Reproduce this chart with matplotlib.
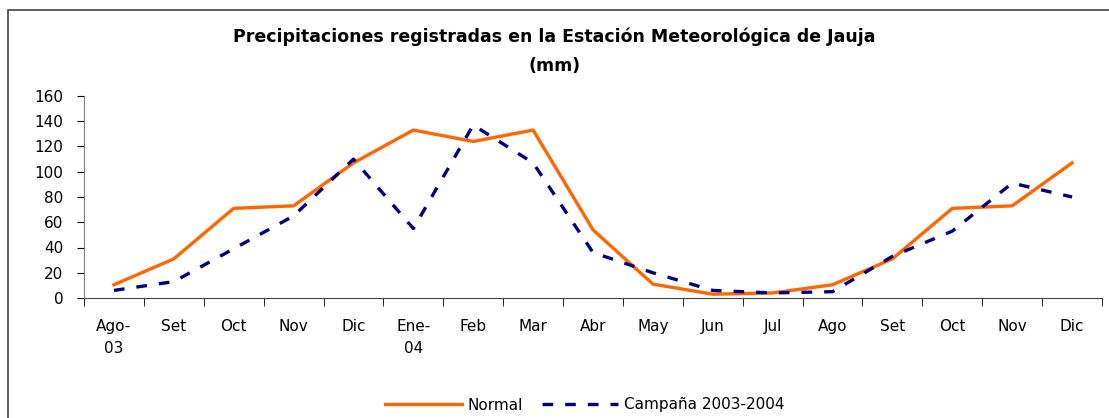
import matplotlib.pyplot as plt
from matplotlib.patches import Rectangle
import numpy as np

# datos (mm)
meses = ['Ago-\n03', 'Set', 'Oct', 'Nov', 'Dic', 'Ene-\n04', 'Feb', 'Mar', 'Abr',
         'May', 'Jun', 'Jul', 'Ago', 'Set', 'Oct', 'Nov', 'Dic']
normal = [10.5, 31, 71, 73, 107, 133, 124, 133, 54,
          11, 3, 4, 10.5, 31, 71, 73, 107]
campana = [6, 13, 39, 65, 110, 55, 137, 107, 36,
           20, 6, 4, 5, 33, 53, 91, 80]

plt.rcParams['font.family'] = ['DejaVu Sans']

fig = plt.figure(figsize=(11.09, 4.18), dpi=100)
ax = fig.add_axes([84 / 1109, 1 - 298 / 418, (1102 - 84) / 1109, (298 - 96) / 418])

x = np.arange(len(meses))
ax.plot(x, normal, color='#FF6600', linewidth=2.4, label='Normal')
ax.plot(x, campana, color='#000080', linewidth=2.4, dashes=(3.2, 3.6),
        label='Campaña 2003-2004')

ax.set_xlim(-0.5, len(meses) - 0.5)
ax.set_ylim(0, 160)
ax.set_yticks(np.arange(0, 161, 20))
ax.set_xticks(x)
ax.set_xticklabels(meses, fontsize=11, linespacing=1.6)
ax.set_xticks(np.arange(-0.5, len(meses), 1), minor=True)
ax.tick_params(axis='x', which='major', length=0, pad=15)
ax.tick_params(axis='x', which='minor', length=6, color='black')
ax.tick_params(axis='y', length=5, labelsize=11, pad=10)
for lbl in ax.get_xticklabels():
    lbl.set_verticalalignment('top')

for s in ['top', 'right']:
    ax.spines[s].set_visible(False)
ax.spines['left'].set_color('#808080')
ax.spines['bottom'].set_color('#404040')

fig.text(0.5, 1 - 37 / 418, 'Precipitaciones registradas en la Estación Meteorológica de Jauja',
         ha='center', va='center', fontsize=12.5, fontweight='bold')
fig.text(0.5, 1 - 66 / 418, '(mm)', ha='center', va='center', fontsize=12.5, fontweight='bold')

fig.legend(loc='center', bbox_to_anchor=(585 / 1109, 1 - 405 / 418), ncol=2, frameon=False,
           fontsize=11, handlelength=5, handletextpad=0.4, columnspacing=1.2)

# marco del gráfico
fig.patches.append(Rectangle((8 / 1109, -0.05), 1.1, 1 - 10 / 418 + 0.05,
                             transform=fig.transFigure, fill=False,
                             edgecolor='#404040', linewidth=1.2))

fig.savefig('out.png', dpi=100)
